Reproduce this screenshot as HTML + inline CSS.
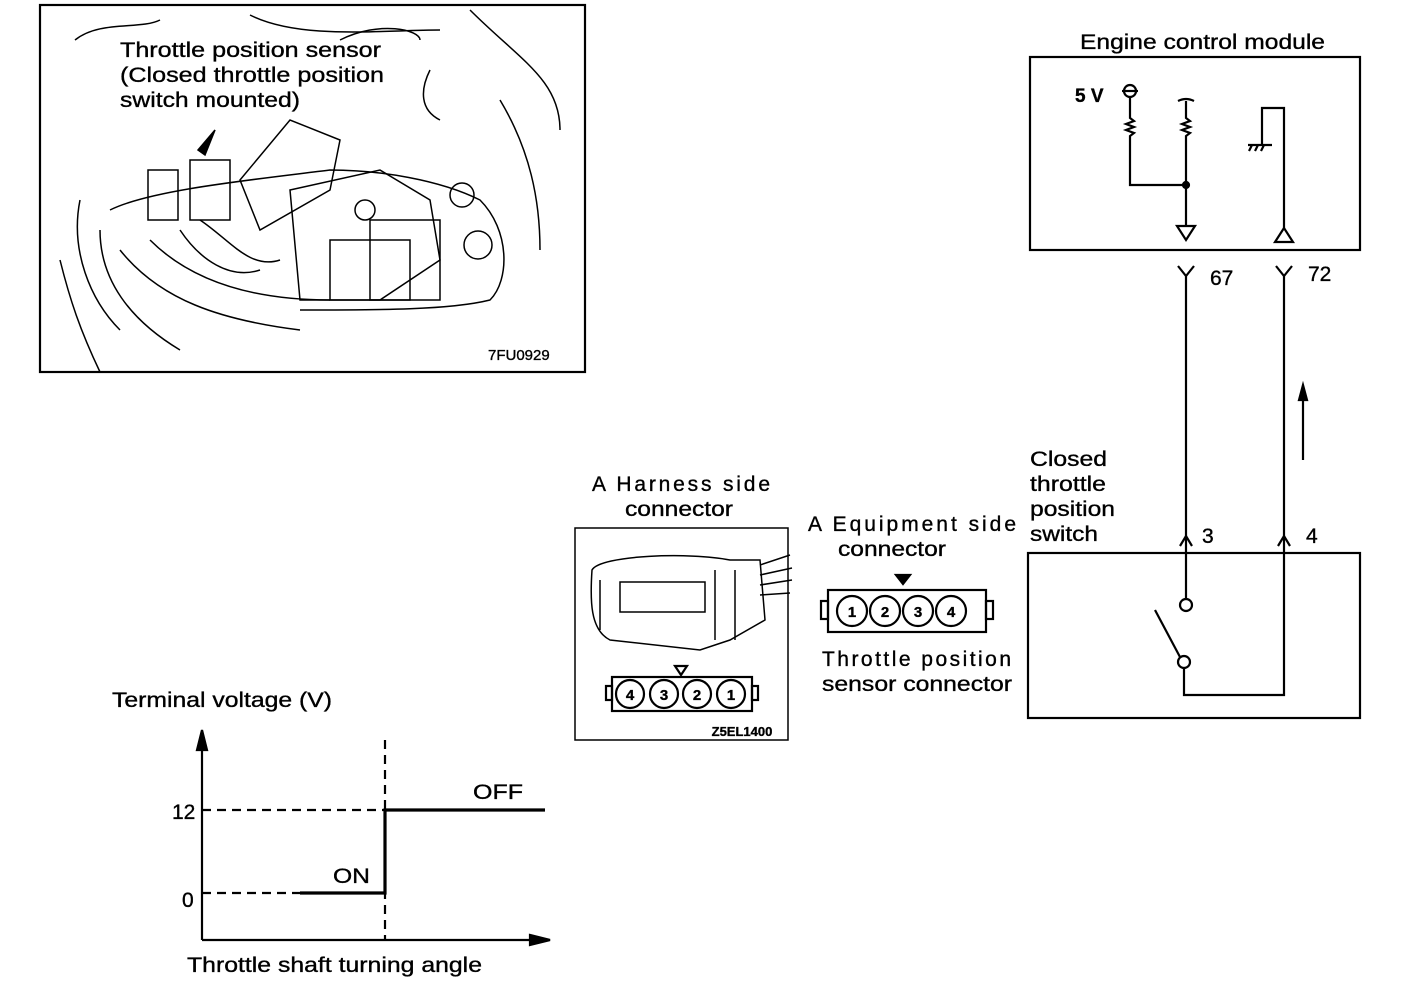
<!DOCTYPE html>
<html><head><meta charset="utf-8"><style>
html,body{margin:0;padding:0;background:#fff}
svg{display:block}
text{font-family:"Liberation Sans",Arial,sans-serif;fill:#000;stroke:#000;stroke-width:0.35}
</style></head><body>
<svg width="1408" height="984" viewBox="0 0 1408 984" xmlns="http://www.w3.org/2000/svg">
<g fill="none" stroke="#000" stroke-width="2.2">
<rect x="40" y="5" width="545" height="367"/>
<g stroke-width="1.5">
<path d="M75 40 C 100 20 140 30 160 20 M250 15 C 300 40 380 30 440 30 M430 70 C420 90 420 110 440 120 M470 10 C520 60 560 80 560 130"/>
<path d="M80 200 C 70 250 90 300 120 330 M100 230 C 100 280 130 320 180 350 M60 260 C 70 300 80 330 100 372"/>
<path d="M110 210 C 150 190 250 180 330 170 C 380 170 440 180 480 200 C 510 230 510 280 490 300 C 450 310 380 310 300 310"/>
<path d="M120 250 C 160 300 220 320 300 330 M150 240 C 190 280 250 300 330 300"/>
<rect x="148" y="170" width="30" height="50"/><rect x="190" y="160" width="40" height="60"/>
<path d="M240 180 L290 120 L340 140 L330 190 L260 230 Z"/>
<path d="M290 190 L380 170 L430 200 L440 260 L380 300 L300 300 Z"/>
<rect x="330" y="240" width="80" height="60"/><rect x="370" y="220" width="70" height="80"/>
<circle cx="462" cy="195" r="12"/><circle cx="478" cy="245" r="14"/><circle cx="365" cy="210" r="10"/>
<path d="M180 230 C 200 260 230 280 260 270 M200 220 C 230 240 250 270 280 260"/>
<path d="M215 130 L205 155 L198 150 Z" fill="#000"/>
<path d="M340 40 C 380 20 420 30 420 40 M500 100 C 530 150 540 200 540 250"/>
</g>
<rect x="1030" y="57" width="330" height="193"/>
<circle cx="1130" cy="91" r="6"/>
<line x1="1122" y1="91" x2="1138" y2="91"/>
<path d="M1130 97 V118 l4 3 l-8 3 l8 3 l-8 3 l8 3 l-4 3 V185 H1186"/>
<path d="M1178 101 q8 -4 16 0 M1186 101 V118 l4 3 l-8 3 l8 3 l-8 3 l8 3 l-4 3 V225"/>
<circle cx="1186" cy="185" r="3" fill="#000"/>
<path d="M1177 226 H1195 L1186 240 Z"/>
<path d="M1262 145 V108 H1284 V228"/>
<path d="M1248 145 H1272 M1252 145 l-3 6 M1258 145 l-3 6 M1264 145 l-3 6"/>
<path d="M1284 228 L1275 242 H1293 Z"/>
<path d="M1178 266 L1186 276 L1194 266 M1186 276 V553"/>
<path d="M1276 266 L1284 276 L1292 266 M1284 276 V553"/>
<path d="M1303 390 V460"/>
<path d="M1299 400 L1303 385 L1307 400 Z" fill="#000"/>
<rect x="1028" y="553" width="332" height="165"/>
<path d="M1180 546 L1186 536 L1192 546 M1278 546 L1284 536 L1290 546"/>
<path d="M1186 553 V598"/><circle cx="1186" cy="605" r="6"/>
<circle cx="1184" cy="662" r="6"/><path d="M1180 657 L1155 610"/>
<path d="M1184 668 V695 H1284 V553"/>
<rect x="575" y="528" width="213" height="212" stroke-width="1.5"/>
<g stroke-width="1.5">
<path d="M592 570 C 600 555 690 552 730 560 L760 560 L765 620 L730 640 L700 650 L610 640 C 590 630 590 600 592 570 Z"/>
<rect x="620" y="582" width="85" height="30"/>
<path d="M760 565 L790 555 M760 575 L792 568 M760 585 L792 580 M760 595 L790 593"/>
<path d="M600 580 V630 M715 570 V640 M735 570 V640"/>
</g>
<rect x="612" y="677" width="140" height="34"/>
<rect x="606" y="686" width="6" height="14"/><rect x="752" y="686" width="6" height="14"/>
<circle cx="630" cy="694" r="14"/><circle cx="664" cy="694" r="14"/><circle cx="697" cy="694" r="14"/><circle cx="731" cy="694" r="14"/>
<path d="M675 666 H687 L681 675 Z"/>
<rect x="828" y="590" width="158" height="42"/>
<rect x="821" y="601" width="7" height="18"/><rect x="986" y="601" width="7" height="18"/>
<circle cx="852" cy="611" r="15"/><circle cx="885" cy="611" r="15"/><circle cx="918" cy="611" r="15"/><circle cx="951" cy="611" r="15"/>
<path d="M896 575 H910 L903 584 Z" fill="#000"/>
<path d="M202 940 V735"/>
<path d="M197 750 L202 730 L207 750 Z" fill="#000"/>
<path d="M202 940 H535"/>
<path d="M530 935 L550 940 L530 945 Z" fill="#000"/>
<path d="M202 810 H385 M202 893 H300 M385 740 V940" stroke-dasharray="9,6"/>
<path d="M300 893 H385 V810 H545" stroke-width="3.2"/>
</g>
<g font-size="21">
<text x="120" y="57" textLength="261" lengthAdjust="spacingAndGlyphs">Throttle position sensor</text>
<text x="120" y="82" textLength="264" lengthAdjust="spacingAndGlyphs">(Closed throttle position</text>
<text x="120" y="107" textLength="180" lengthAdjust="spacingAndGlyphs">switch mounted)</text>
<text x="488" y="360" font-size="15" stroke-width="0.2">7FU0929</text>
<text x="1080" y="49" textLength="245" lengthAdjust="spacingAndGlyphs">Engine control module</text>
<text x="1075" y="102" font-weight="bold" font-size="19">5 V</text>
<text x="1210" y="285">67</text>
<text x="1308" y="281">72</text>
<text x="1030" y="466" textLength="77" lengthAdjust="spacingAndGlyphs">Closed</text>
<text x="1030" y="491" textLength="76" lengthAdjust="spacingAndGlyphs">throttle</text>
<text x="1030" y="516" textLength="85" lengthAdjust="spacingAndGlyphs">position</text>
<text x="1030" y="541" textLength="68" lengthAdjust="spacingAndGlyphs">switch</text>
<text x="1202" y="543">3</text>
<text x="1306" y="543">4</text>
<text x="592" y="491" textLength="178" lengthAdjust="spacing">A  Harness side</text>
<text x="625" y="516" textLength="108" lengthAdjust="spacingAndGlyphs">connector</text>
<text x="808" y="531" textLength="208" lengthAdjust="spacing">A  Equipment  side</text>
<text x="838" y="556" textLength="108" lengthAdjust="spacingAndGlyphs">connector</text>
<text x="822" y="666" textLength="189" lengthAdjust="spacing">Throttle   position</text>
<text x="822" y="691" textLength="190" lengthAdjust="spacingAndGlyphs">sensor connector</text>
<text x="112" y="707" textLength="220" lengthAdjust="spacingAndGlyphs">Terminal voltage (V)</text>
<text x="172" y="819">12</text>
<text x="182" y="907">0</text>
<text x="333" y="883" textLength="37" lengthAdjust="spacingAndGlyphs">ON</text>
<text x="473" y="799" textLength="50" lengthAdjust="spacingAndGlyphs">OFF</text>
<text x="187" y="972" textLength="295" lengthAdjust="spacingAndGlyphs">Throttle shaft turning angle</text>
</g>
<g font-size="15" font-weight="bold" text-anchor="middle">
<text x="630" y="700">4</text><text x="664" y="700">3</text><text x="697" y="700">2</text><text x="731" y="700">1</text>
<text x="852" y="617">1</text><text x="885" y="617">2</text><text x="918" y="617">3</text><text x="951" y="617">4</text>
<text x="742" y="736" font-size="13">Z5EL1400</text>
</g>
</svg>
</body></html>
